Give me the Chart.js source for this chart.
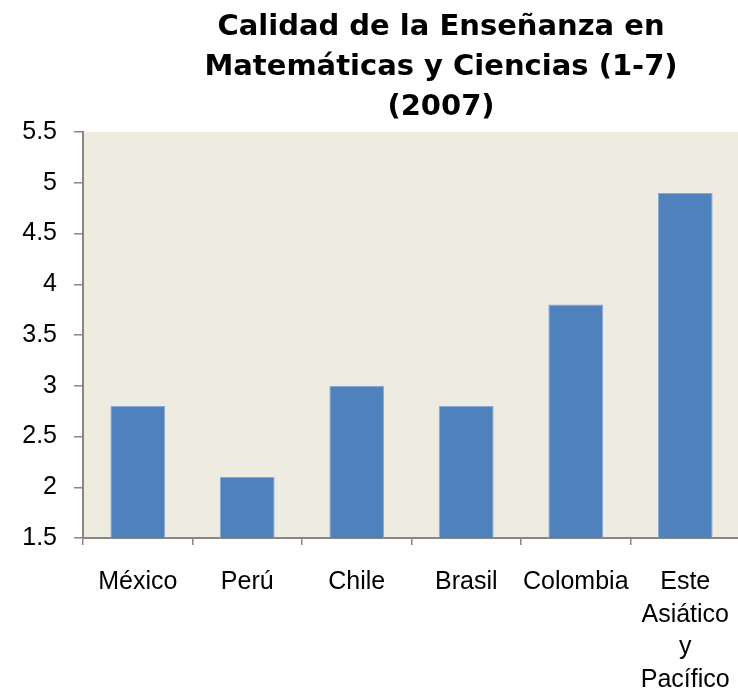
<!DOCTYPE html>
<html>
<head>
    <meta charset="utf-8">
    <title>Calidad de la Enseñanza</title>
    <script src="https://cdn.jsdelivr.net/npm/chart.js"></script>
    <style>
        body { margin: 0; background: #fff; }
        #wrap { width: 738px; height: 690px; overflow: hidden; }
    </style>
</head>
<body>
    <div id="wrap">
        <canvas id="chart" width="882" height="690"></canvas>
    </div>

    <script>
        // data
        const categories = ['México', 'Perú', 'Chile', 'Brasil', 'Colombia', ['Este', 'Asiático', 'y', 'Pacífico']];
        const scores = [2.8, 2.1, 3.0, 2.8, 3.8, 4.9];
        const titleLines = ['Calidad de la Enseñanza en', 'Matemáticas y Ciencias (1-7)', '(2007)'];
        const yMin = 1.5;
        const yMax = 5.5;
        const yStep = 0.5;

        // beige plot area behind the bars
        const plotBackground = {
            id: 'plotBackground',
            beforeDraw(chart) {
                const { ctx, chartArea } = chart;
                ctx.save();
                ctx.fillStyle = '#EEECE1';
                ctx.fillRect(chartArea.left, chartArea.top, chartArea.right - chartArea.left, chartArea.bottom - chartArea.top);
                ctx.restore();
            }
        };

        const axisGrey = '#878787';

        new Chart(document.getElementById('chart').getContext('2d'), {
            type: 'bar',
            data: {
                labels: categories,
                datasets: [{
                    data: scores,
                    backgroundColor: '#4F81BD',
                    borderColor: '#8AA8D4',
                    borderWidth: 1,
                    barPercentage: 0.5,
                    categoryPercentage: 1
                }]
            },
            options: {
                responsive: false,
                animation: false,
                layout: { padding: 0 },
                plugins: {
                    legend: { display: false },
                    tooltip: { enabled: false },
                    title: {
                        display: true,
                        text: titleLines,
                        color: '#000',
                        font: { family: 'DejaVu Sans', size: 29, weight: 'bold', lineHeight: 1.38 },
                        padding: { top: 7, bottom: 5 }
                    }
                },
                scales: {
                    x: {
                        grid: {
                            display: true,
                            drawOnChartArea: false,
                            drawTicks: true,
                            tickLength: 7,
                            color: axisGrey,
                            lineWidth: 1.5
                        },
                        border: { display: true, color: axisGrey, width: 2 },
                        ticks: {
                            color: '#000',
                            padding: 21,
                            maxRotation: 0,
                            autoSkip: false,
                            font: { family: 'Liberation Sans', size: 25, lineHeight: 1.3 }
                        },
                        afterFit(scale) { scale.height = 152; }
                    },
                    y: {
                        min: yMin,
                        max: yMax,
                        grid: {
                            display: true,
                            drawOnChartArea: false,
                            drawTicks: true,
                            tickLength: 9,
                            color: axisGrey,
                            lineWidth: 1.5
                        },
                        border: { display: true, color: axisGrey, width: 2 },
                        ticks: {
                            stepSize: yStep,
                            color: '#000',
                            padding: 17,
                            font: { family: 'Liberation Sans', size: 25 },
                            callback: (v) => String(v)
                        },
                        afterFit(scale) { scale.width = 83; }
                    },
                    // empty spacer on the right so the title sits where the original one does
                    spacer: {
                        type: 'linear',
                        position: 'right',
                        grid: { display: false },
                        border: { display: false },
                        ticks: { display: false },
                        afterFit(scale) { scale.width = 142; }
                    }
                }
            },
            plugins: [plotBackground]
        });
    </script>
</body>
</html>
